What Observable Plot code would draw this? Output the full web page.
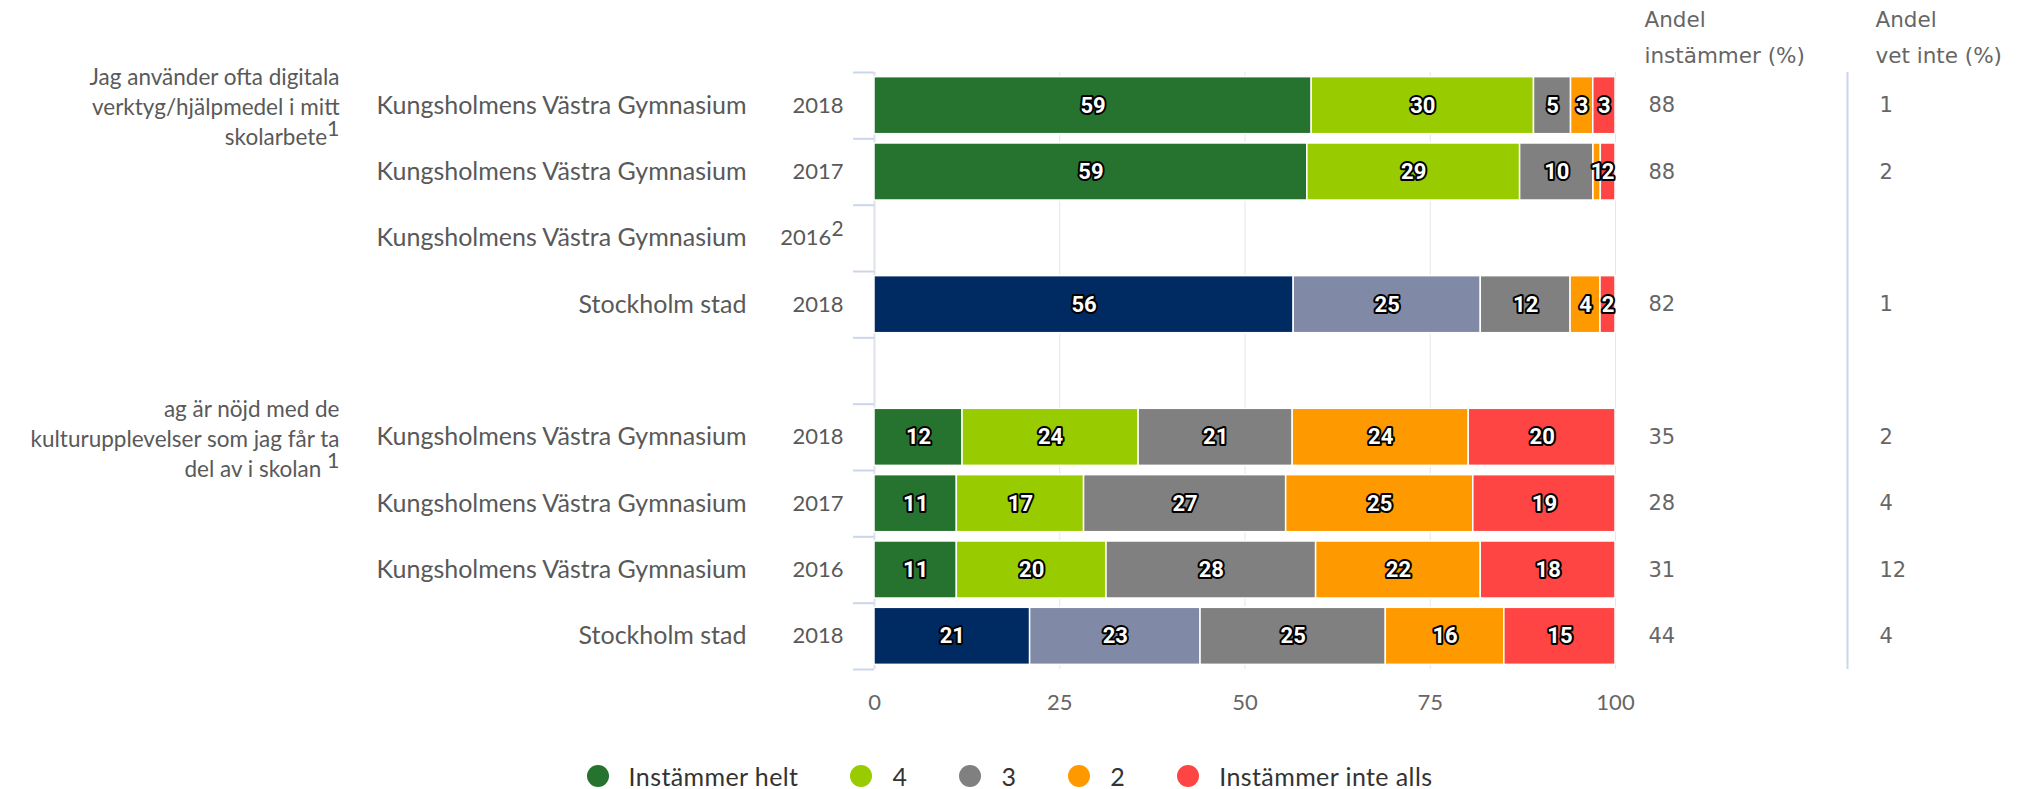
<!DOCTYPE html>
<html>
<head>
<meta charset="utf-8">
<script src="https://cdn.jsdelivr.net/npm/d3@7"></script>
<script src="https://cdn.jsdelivr.net/npm/@observablehq/plot@0.6"></script>
<style>
  html, body { margin: 0; padding: 0; background: #fff; }
  #legend { display: flex; justify-content: center; align-items: center; height: 36px; gap: 52px;
            font-family: Lato, sans-serif; font-size: 25px; letter-spacing: 0.4px; color: #333; }
  #legend .item { display: flex; align-items: center; gap: 20px; }
  #legend .sw { width: 22px; height: 22px; border-radius: 50%; }
</style>
</head>
<body>
<div id="chart"></div>
<div id="legend"></div>
<script>
// ---------- data ----------
const categories = ["Instämmer helt", "4", "3", "2", "Instämmer inte alls"];
const categoryColors = ["#267330", "#99cc00", "#808080", "#ff9900", "#ff4444"];
const cityColors = ["#002b62", "#808aa6", "#808080", "#ff9900", "#ff4444"];

const rowKeys = ["r0", "r1", "r2", "r3", "gap", "r5", "r6", "r7", "r8"];
const units = ["Kungsholmens Västra Gymnasium", "Kungsholmens Västra Gymnasium", "Kungsholmens Västra Gymnasium", "Stockholm stad", "",
               "Kungsholmens Västra Gymnasium", "Kungsholmens Västra Gymnasium", "Kungsholmens Västra Gymnasium", "Stockholm stad"];
const years = ["2018", "2017", "2016^2", "2018", "", "2018", "2017", "2016", "2018"];
const isCity = [false, false, false, true, false, false, false, false, true];

const valHelt = [59, 59, null, 56, null, 12, 11, 11, 21];
const val4    = [30, 29, null, 25, null, 24, 17, 20, 23];
const val3    = [5, 10, null, 12, null, 21, 27, 28, 25];
const val2    = [3, 1, null, 4, null, 24, 25, 22, 16];
const valInte = [3, 2, null, 2, null, 20, 19, 18, 15];

const andelInstammer = [88, 88, null, 82, null, 35, 28, 31, 44];
const andelVetInte   = [1, 2, null, 1, null, 2, 4, 12, 4];

const questionLabels = ["Jag använder ofta digitala\nverktyg/hjälpmedel i mitt\nskolarbete^1",
                        "ag är nöjd med de\nkulturupplevelser som jag får ta\ndel av i skolan ^1"];
const questionRows = ["r0", "r5"];

const headerInstammer = "Andel\ninstämmer (%)";
const headerVetInte = "Andel\nvet inte (%)";
const xTicks = [0, 25, 50, 75, 100];

// ---------- build tables ----------
const seriesValues = [valHelt, val4, val3, val2, valInte];
const segments = [];
rowKeys.forEach((row, i) => {
  seriesValues.forEach((vals, c) => {
    if (vals[i] != null) segments.push({
      row, cat: categories[c], value: vals[i],
      color: (isCity[i] ? cityColors : categoryColors)[c]
    });
  });
});
const rows = rowKeys.map((row, i) => ({
  row, unit: units[i], year: years[i],
  agree: andelInstammer[i] == null ? "" : String(andelInstammer[i]),
  dontKnow: andelVetInte[i] == null ? "" : String(andelVetInte[i])
}));
const labelRows = rows.filter(d => d.unit !== "");
const questions = questionRows.map((row, i) => ({row, label: questionLabels[i]}));

// ---------- layout ----------
const W = 2019, H = 758;
const mTop = 72, mBottom = H - 669, mLeft = 874, mRight = W - 1615;
const plotW = W - mLeft - mRight;
const step = (H - mBottom - mTop) / rowKeys.length;

const labelFont = "Lato, 'Open Sans', sans-serif";
const colFont = "'DejaVu Sans', sans-serif";

const stackOpts = {y: "row", x: "value", z: "cat", order: categories, offset: "normalize"};

const chart = Plot.plot({
  width: W, height: H,
  marginTop: mTop, marginBottom: mBottom, marginLeft: mLeft, marginRight: mRight,
  style: {fontFamily: labelFont, fontSize: "22px", color: "#666", background: "#fff", overflow: "visible"},
  x: {domain: [0, 1], ticks: xTicks.map(d => d / 100), tickFormat: d => Math.round(d * 100), tickSize: 0, tickPadding: 25, label: null},
  y: {domain: rowKeys, paddingInner: 0.14, paddingOuter: 0.07, round: false, axis: null},
  marks: [
    // grid lines
    Plot.ruleX(xTicks.slice(1).map(d => d / 100), {stroke: "#e6e6e6", strokeWidth: 1}),
    // axis line
    Plot.ruleX([0], {stroke: "#dde2ec", strokeWidth: 2}),
    // category tick marks at band edges
    Plot.ruleY(rowKeys, {y: d => d, dy: -step / 2, insetLeft: -21, insetRight: plotW, stroke: "#ccd6eb", strokeWidth: 2}),
    Plot.ruleY(rowKeys.slice(-1), {y: d => d, dy: step / 2, insetLeft: -21, insetRight: plotW, stroke: "#ccd6eb", strokeWidth: 2}),
    // bars
    Plot.barX(segments, Plot.stackX({...stackOpts, fill: "color", stroke: "white", strokeWidth: 1.5})),
    // data labels
    Plot.text(segments, Plot.stackX({...stackOpts, text: d => String(d.value), fill: "white", stroke: "black",
      strokeWidth: 4, strokeLinejoin: "round", fontWeight: "bold", fontSize: 22,
      fontFamily: "'Liberation Sans Narrow', 'Roboto', sans-serif"})),
    // category labels
    Plot.text(labelRows, {y: "row", text: "unit", frameAnchor: "left", dx: -128, textAnchor: "end", fill: "#595959", fontSize: 25}),
    Plot.text(labelRows, {y: "row", text: "year", frameAnchor: "left", dx: -31, textAnchor: "end", fill: "#595959", fontSize: 22}),
    // question labels
    Plot.text(questions, {y: "row", text: "label", frameAnchor: "left", dx: -535, textAnchor: "end", lineAnchor: "middle",
      lineHeight: 1.33, fill: "#595959", fontSize: 22.5}),
    // right columns
    Plot.text(rows, {y: "row", text: "agree", frameAnchor: "right", dx: 33, textAnchor: "start", fill: "#666", fontSize: 21, fontFamily: colFont}),
    Plot.text(rows, {y: "row", text: "dontKnow", frameAnchor: "right", dx: 264, textAnchor: "start", fill: "#666", fontSize: 21, fontFamily: colFont}),
    Plot.text([headerInstammer], {text: d => d, frameAnchor: "top-right", dx: 29, dy: -10, textAnchor: "start", lineAnchor: "bottom",
      lineHeight: 1.65, fill: "#666", fontSize: 21.5, fontFamily: colFont}),
    Plot.text([headerVetInte], {text: d => d, frameAnchor: "top-right", dx: 260, dy: -10, textAnchor: "start", lineAnchor: "bottom",
      lineHeight: 1.65, fill: "#666", fontSize: 21.5, fontFamily: colFont}),
    Plot.ruleX([1], {dx: 232, stroke: "#ccd6eb", strokeWidth: 2})
  ]
});

// superscripts: "text^n" -> text + raised n
chart.querySelectorAll("text, tspan").forEach(el => {
  Array.from(el.childNodes).forEach(node => {
    if (node.nodeType === 3 && node.nodeValue.includes("^")) {
      const [before, sup] = node.nodeValue.split("^");
      node.nodeValue = before;
      const t = document.createElementNS("http://www.w3.org/2000/svg", "tspan");
      t.setAttribute("baseline-shift", "45%");
      t.setAttribute("font-size", "0.95em");
      t.textContent = sup;
      node.parentNode.insertBefore(t, node.nextSibling);
    }
  });
});

document.getElementById("chart").appendChild(chart);

// legend
const legend = document.getElementById("legend");
categories.forEach((c, i) => {
  const item = document.createElement("div");
  item.className = "item";
  const sw = document.createElement("span");
  sw.className = "sw";
  sw.style.background = categoryColors[i];
  const lab = document.createElement("span");
  lab.textContent = c;
  item.append(sw, lab);
  legend.appendChild(item);
});
</script>
</body>
</html>
